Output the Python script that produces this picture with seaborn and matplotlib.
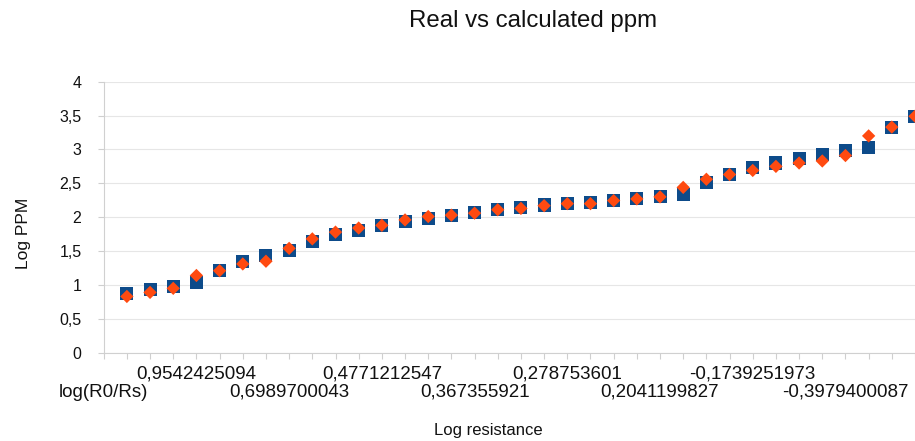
import matplotlib
matplotlib.use("Agg")
import matplotlib.pyplot as plt
import numpy as np
import pandas as pd
import seaborn as sns

# ---- data -------------------------------------------------------------
categories = [
    "log(R0/Rs)", "", "", "", "0,9542425094", "", "", "", "0,6989700043",
    "", "", "", "0,4771212547", "", "", "", "0,367355921", "", "", "",
    "0,278753601", "", "", "", "0,2041199827", "", "", "", "-0,1739251973",
    "", "", "", "-0,3979400087", "", "", "",
]
# values for categories 1..35 (category 0 is the header row, no data)
real_log_ppm = [
    0.88, 0.94, 0.97, 1.03, 1.22, 1.34, 1.43, 1.51, 1.64, 1.74,
    1.81, 1.88, 1.93, 1.98, 2.03, 2.07, 2.11, 2.14, 2.18, 2.205,
    2.22, 2.25, 2.28, 2.30, 2.33, 2.51, 2.63, 2.73, 2.80, 2.87,
    2.93, 2.99, 3.03, 3.33, 3.49,
]
calc_log_ppm = [
    0.83, 0.89, 0.95, 1.14, 1.21, 1.31, 1.35, 1.54, 1.68, 1.78,
    1.84, 1.88, 1.96, 2.01, 2.03, 2.06, 2.11, 2.13, 2.17, 2.20,
    2.20, 2.245, 2.27, 2.30, 2.44, 2.56, 2.63, 2.69, 2.75, 2.80,
    2.83, 2.91, 3.20, 3.33, 3.49,
]
y_ticks = [0, 0.5, 1, 1.5, 2, 2.5, 3, 3.5, 4]
y_tick_labels = ["0", "0,5", "1", "1,5", "2", "2,5", "3", "3,5", "4"]

BLUE = "#0d4b8a"
ORANGE = "#ff4a10"
TEXT = "#111111"

# ---- table -------------------------------------------------------------
pos = list(range(1, len(real_log_ppm) + 1))
df = pd.concat([
    pd.DataFrame({"pos": pos, "value": real_log_ppm, "series": "Real"}),
    pd.DataFrame({"pos": pos, "value": calc_log_ppm, "series": "Calculated"}),
], ignore_index=True)

sns.set_theme(style="white")
plt.rcParams["font.family"] = ["Liberation Sans", "DejaVu Sans"]
plt.rcParams["text.color"] = TEXT
plt.rcParams["axes.labelcolor"] = TEXT
plt.rcParams["xtick.labelcolor"] = TEXT
plt.rcParams["ytick.labelcolor"] = TEXT

W, H = 915, 441
fig = plt.figure(figsize=(W / 100, H / 100), dpi=100)
left_px, bottom_px, top_px = 103.7, 352.7, 81.7
ax = fig.add_axes([left_px / W, (H - bottom_px) / H, 1 - left_px / W, (bottom_px - top_px) / H])

sns.scatterplot(
    data=df, x="pos", y="value", hue="series", style="series", size="series",
    markers={"Real": "s", "Calculated": "D"},
    palette={"Real": BLUE, "Calculated": ORANGE},
    sizes={"Real": 88, "Calculated": 46},
    linewidth=0, legend=False, ax=ax, zorder=3,
)

step_px = 23.3
ax.set_xlim(0, (W - left_px) / step_px)
ax.set_ylim(0, 4)

# staggered category labels: alternate rows among the labelled categories
row1_pos, row1_lab, row2_pos, row2_lab = [], [], [], []
k = 0
for i, lab in enumerate(categories):
    if lab:
        if k % 2 == 0:
            row2_pos.append(i); row2_lab.append(lab)
        else:
            row1_pos.append(i); row1_lab.append(lab)
        k += 1
major_labels = [categories[i] if i in row1_pos else "" for i in range(len(categories))]
ax.xaxis.remove_overlapping_locs = False
ax.set_xticks(range(len(categories)))
ax.set_xticklabels(major_labels, fontsize=13.5)
ax.set_xticks(row2_pos, minor=True)
ax.set_xticklabels(row2_lab, minor=True, fontsize=13.5)

ax.set_yticks(y_ticks)
ax.set_yticklabels(y_tick_labels, fontsize=11.5)

ax.tick_params(axis="x", which="major", length=4, width=0.8, color="#cfcfcf", pad=5, bottom=True)
ax.tick_params(axis="x", which="minor", length=0, pad=22.5, bottom=True)
ax.tick_params(axis="y", length=4, width=0.8, color="#cfcfcf", pad=12, left=True)

for s in ["top", "right"]:
    ax.spines[s].set_visible(False)
for s in ["left", "bottom"]:
    ax.spines[s].set_color("#d0d0d0")
    ax.spines[s].set_linewidth(0.8)

ax.yaxis.grid(True, color="#e6e6e6", linewidth=0.8)
ax.xaxis.grid(False)
ax.set_axisbelow(True)

ax.set_xlabel("Log resistance", fontsize=12)
ax.xaxis.set_label_coords((488 - left_px) / (W - left_px), -0.26)
ax.set_ylabel("Log PPM", fontsize=12.5)
ax.yaxis.set_label_coords(-0.09, 0.44)

fig.text(533 / W, 1 - 21 / H, "Real vs calculated ppm", ha="center", va="center", fontsize=17.3)

fig.savefig("out.png", dpi=100)
